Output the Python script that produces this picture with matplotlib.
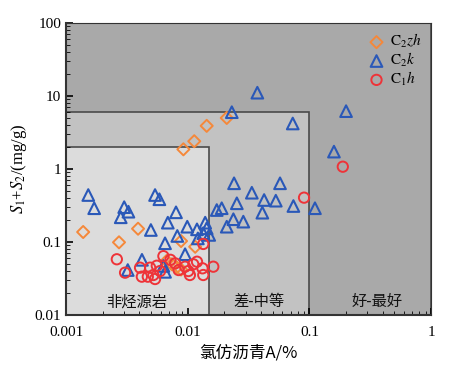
import matplotlib
matplotlib.use('Agg')
import matplotlib.pyplot as plt
from matplotlib.patches import Rectangle

plt.rcParams['font.family'] = ['Liberation Serif', 'Noto Sans CJK SC']
plt.rcParams['mathtext.fontset'] = 'stix'

# 数据 (氯仿沥青A %, S1+S2 mg/g)
c2zh_x = [0.00138, 0.00272, 0.0039, 0.0088, 0.0115, 0.0067, 0.0074, 0.0081, 0.0088,
          0.0092, 0.0113, 0.0143, 0.0209]
c2zh_y = [0.137, 0.099, 0.152, 0.103, 0.086, 0.055, 0.0495, 0.045, 0.042,
          1.86, 2.4, 3.9, 5.0]

c2k_x = [0.00152, 0.0017, 0.0030, 0.00325, 0.00281, 0.00538, 0.00584, 0.0080, 0.00685,
         0.00497, 0.0099, 0.0082, 0.0119, 0.0139, 0.0143, 0.0134, 0.0150, 0.0065,
         0.0173, 0.0240, 0.0573, 0.0336, 0.0424, 0.0529, 0.0253, 0.0190, 0.0738,
         0.111, 0.041, 0.0237, 0.0286, 0.0209, 0.0373, 0.023, 0.0729, 0.2, 0.159,
         0.0121, 0.0095, 0.0042, 0.00321, 0.0063, 0.0065]
c2k_y = [0.44, 0.29, 0.30, 0.26, 0.218, 0.44, 0.385, 0.255, 0.184,
         0.146, 0.162, 0.121, 0.149, 0.184, 0.154, 0.132, 0.125, 0.096,
         0.274, 0.637, 0.637, 0.473, 0.376, 0.368, 0.339, 0.29, 0.311,
         0.29, 0.252, 0.205, 0.19, 0.162, 11.1, 6.0, 4.2, 6.2, 1.73,
         0.112, 0.068, 0.057, 0.0413, 0.047, 0.039]

c1h_x = [0.00261, 0.00405, 0.00419, 0.0049, 0.00521, 0.00538, 0.00556, 0.00592, 0.00469,
         0.00787, 0.0095, 0.0101, 0.0111, 0.0119, 0.0104, 0.0132, 0.0134, 0.0162,
         0.0084, 0.0063, 0.0134, 0.00305, 0.0903, 0.188, 0.0072]
c1h_y = [0.058, 0.0445, 0.0335, 0.0445, 0.0353, 0.0311, 0.0473, 0.040, 0.0335,
         0.051, 0.0459, 0.040, 0.0495, 0.0537, 0.0353, 0.0436, 0.0353, 0.0459,
         0.0413, 0.064, 0.094, 0.038, 0.405, 1.075, 0.057]

# 分区界线
zones = [(1.0, 100.0, '#a9a9a9'), (0.1, 6.0, '#c2c2c2'), (0.015, 2.0, '#dcdcdc')]
zone_names = ['非烃源岩', '差-中等', '好-最好']
zone_label_x = [0.00383, 0.0385, 0.359]

fig = plt.figure(figsize=(4.5, 3.65), dpi=100)
ax = fig.add_axes([0.147, 0.137, 0.811, 0.800])
ax.set_xscale('log')
ax.set_yscale('log')
ax.set_xlim(0.001, 1)
ax.set_ylim(0.01, 100)

for xr, yr, col in zones:
    ax.add_patch(Rectangle((0.001, 0.01), xr - 0.001, yr - 0.01, facecolor=col,
                           edgecolor='#4a4a4a', linewidth=1.2, zorder=0))

for name, xx in zip(zone_names, zone_label_x):
    ax.text(xx, 0.0151, name, ha='center', va='center', fontsize=11,
            family=['Noto Sans CJK SC'], color='#111111')

ax.scatter(c2zh_x, c2zh_y, marker='D', s=38, facecolors='none', edgecolors='#f5883a',
           linewidths=1.4, label=r'$\mathrm{C}_2zh$', zorder=3)
ax.scatter(c2k_x, c2k_y, marker='^', s=70, facecolors='none', edgecolors='#2a58b8',
           linewidths=1.5, label=r'$\mathrm{C}_2k$', zorder=3)
ax.scatter(c1h_x, c1h_y, marker='o', s=55, facecolors='none', edgecolors='#ee3338',
           linewidths=1.4, label=r'$\mathrm{C}_1h$', zorder=4)

ax.set_xticks([0.001, 0.01, 0.1, 1])
ax.set_xticklabels(['0.001', '0.01', '0.1', '1'])
ax.set_yticks([0.01, 0.1, 1, 10, 100])
ax.set_yticklabels(['0.01', '0.1', '1', '10', '100'])
ax.tick_params(which='both', direction='in', top=False, right=False, labelsize=11)
ax.tick_params(which='major', length=5, width=1.2)
ax.tick_params(which='minor', length=3)
ax.tick_params(axis='x', pad=8)

for s in ax.spines.values():
    s.set_color('#333333')
ax.spines['left'].set_linewidth(1.5)
ax.spines['bottom'].set_linewidth(1.5)

ax.set_xlabel('氯仿沥青A/%', fontsize=12, family=['Noto Sans CJK SC'], labelpad=4)
ax.set_ylabel(r'$S_1$+$S_2$/(mg/g)', fontsize=12, labelpad=4)

leg = ax.legend(loc='upper right', frameon=False, fontsize=11, handletextpad=0.4,
                handlelength=1.0, labelspacing=0.05, borderaxespad=0.2)

fig.savefig('out.png', dpi=100)
